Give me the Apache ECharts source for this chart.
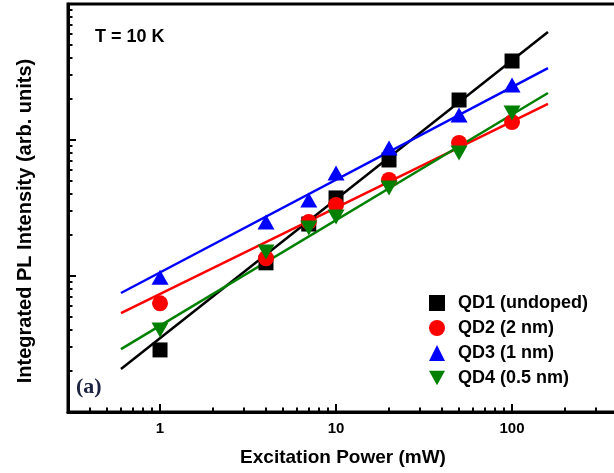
<!DOCTYPE html>
<html><head><meta charset="utf-8">
<script src="https://cdn.jsdelivr.net/npm/echarts@6/dist/echarts.min.js"></script>
<style>html,body{margin:0;padding:0;background:#fff}#c{width:614px;height:473px}</style>
</head><body><div id="c"></div>
<script>
// Excitation power (mW)
const power = [1, 4, 7, 10, 20, 50, 100];
// Integrated PL intensity (arb. units)
const qd1 = [28.6, 125, 241, 375, 713, 1968, 3810];
const qd2 = [63, 135, 250, 333, 508, 951, 1355];
const qd3 = [98, 249, 362, 571, 873, 1528, 2535];
const qd4 = [40, 150, 225, 272, 444, 802, 1581];
// Power-law fit lines (end points)
const fitPower = [0.6, 160];
const fit1 = [20.7, 6225];
const fit2 = [53.4, 1840];
const fit3 = [75, 3381];
const fit4 = [29, 2217];
const names = ['QD1 (undoped)', 'QD2 (2 nm)', 'QD3 (1 nm)', 'QD4 (0.5 nm)'];
const colors = ['#000000', '#ff0000', '#0000ff', '#008000'];

const pairs = (xs, ys) => xs.map((x, i) => [x, ys[i]]);
const downTri = 'path://M0,0 L10,0 L5,9 Z';
const symbols = ['rect', 'circle', 'triangle', downTri];
const sizes = [15, 16, [17, 15], [17, 15]];
const dataSets = [qd1, qd2, qd3, qd4];
const fits = [fit1, fit2, fit3, fit4];

const series = [];
fits.forEach((f, i) => {
  series.push({
    type: 'line', data: pairs(fitPower, f), showSymbol: false, symbol: 'none',
    lineStyle: { color: colors[i], width: 2.5 }, z: 2, silent: true
  });
});
dataSets.forEach((d, i) => {
  series.push({
    name: names[i], type: 'scatter', data: pairs(power, d),
    symbol: symbols[i], symbolSize: sizes[i],
    itemStyle: { color: colors[i], opacity: 1 }, z: 3
  });
});

const font = '"Liberation Sans", Arial, sans-serif';
const chart = echarts.init(document.getElementById('c'), null, { renderer: 'canvas' });
chart.setOption({
  animation: false,
  backgroundColor: '#ffffff',
  grid: { left: 68, top: 4, width: 550, height: 408, show: true, borderColor: '#000', borderWidth: 3, containLabel: false, outerBoundsMode: 'none' },
  xAxis: {
    type: 'log', logBase: 10, min: 0.3, max: 400,
    name: 'Excitation Power (mW)', nameLocation: 'middle', nameGap: 36,
    nameTextStyle: { fontFamily: font, fontWeight: 'bold', fontSize: 19, color: '#000' },
    axisLine: { show: true, lineStyle: { color: '#000', width: 3 } },
    axisTick: { show: true, inside: true, length: 8, lineStyle: { color: '#000', width: 2 } },
    minorTick: { show: true, splitNumber: 9, length: 4.5, lineStyle: { color: '#000', width: 2 } },
    axisLabel: { show: true, showMinLabel: false, showMaxLabel: false, margin: 9, fontFamily: font, fontWeight: 'bold', fontSize: 15, color: '#000' },
    splitLine: { show: false }, minorSplitLine: { show: false }
  },
  yAxis: {
    type: 'log', logBase: 10, min: 10, max: 10000,
    name: 'Integrated PL Intensity (arb. units)', nameLocation: 'middle', nameGap: 33,
    nameTextStyle: { fontFamily: font, fontWeight: 'bold', fontSize: 20, color: '#000', padding: [0, 26, 0, 0] },
    axisLine: { show: true, lineStyle: { color: '#000', width: 3 } },
    axisTick: { show: true, inside: true, length: 8, lineStyle: { color: '#000', width: 2 } },
    minorTick: { show: true, splitNumber: 9, length: 4.5, lineStyle: { color: '#000', width: 2 } },
    axisLabel: { show: false },
    splitLine: { show: false }, minorSplitLine: { show: false }
  },
  legend: {
    data: names, orient: 'vertical', left: 424, top: 289,
    itemWidth: 16, itemHeight: 16, itemGap: 7, selectedMode: false,
    textStyle: { fontFamily: font, fontWeight: 'bold', fontSize: 18, color: '#000', padding: [0, 0, 0, 8] }
  },
  graphic: [
    { type: 'text', left: 95, top: 28, style: { text: 'T = 10 K', font: 'bold 18px "Liberation Sans", Arial, sans-serif', fill: '#000' } },
    { type: 'text', left: 76, top: 376, style: { text: '(a)', font: 'bold 22px "Liberation Serif", "Times New Roman", serif', fill: '#1c2340' } }
  ],
  series: series
});
</script>
</body></html>
